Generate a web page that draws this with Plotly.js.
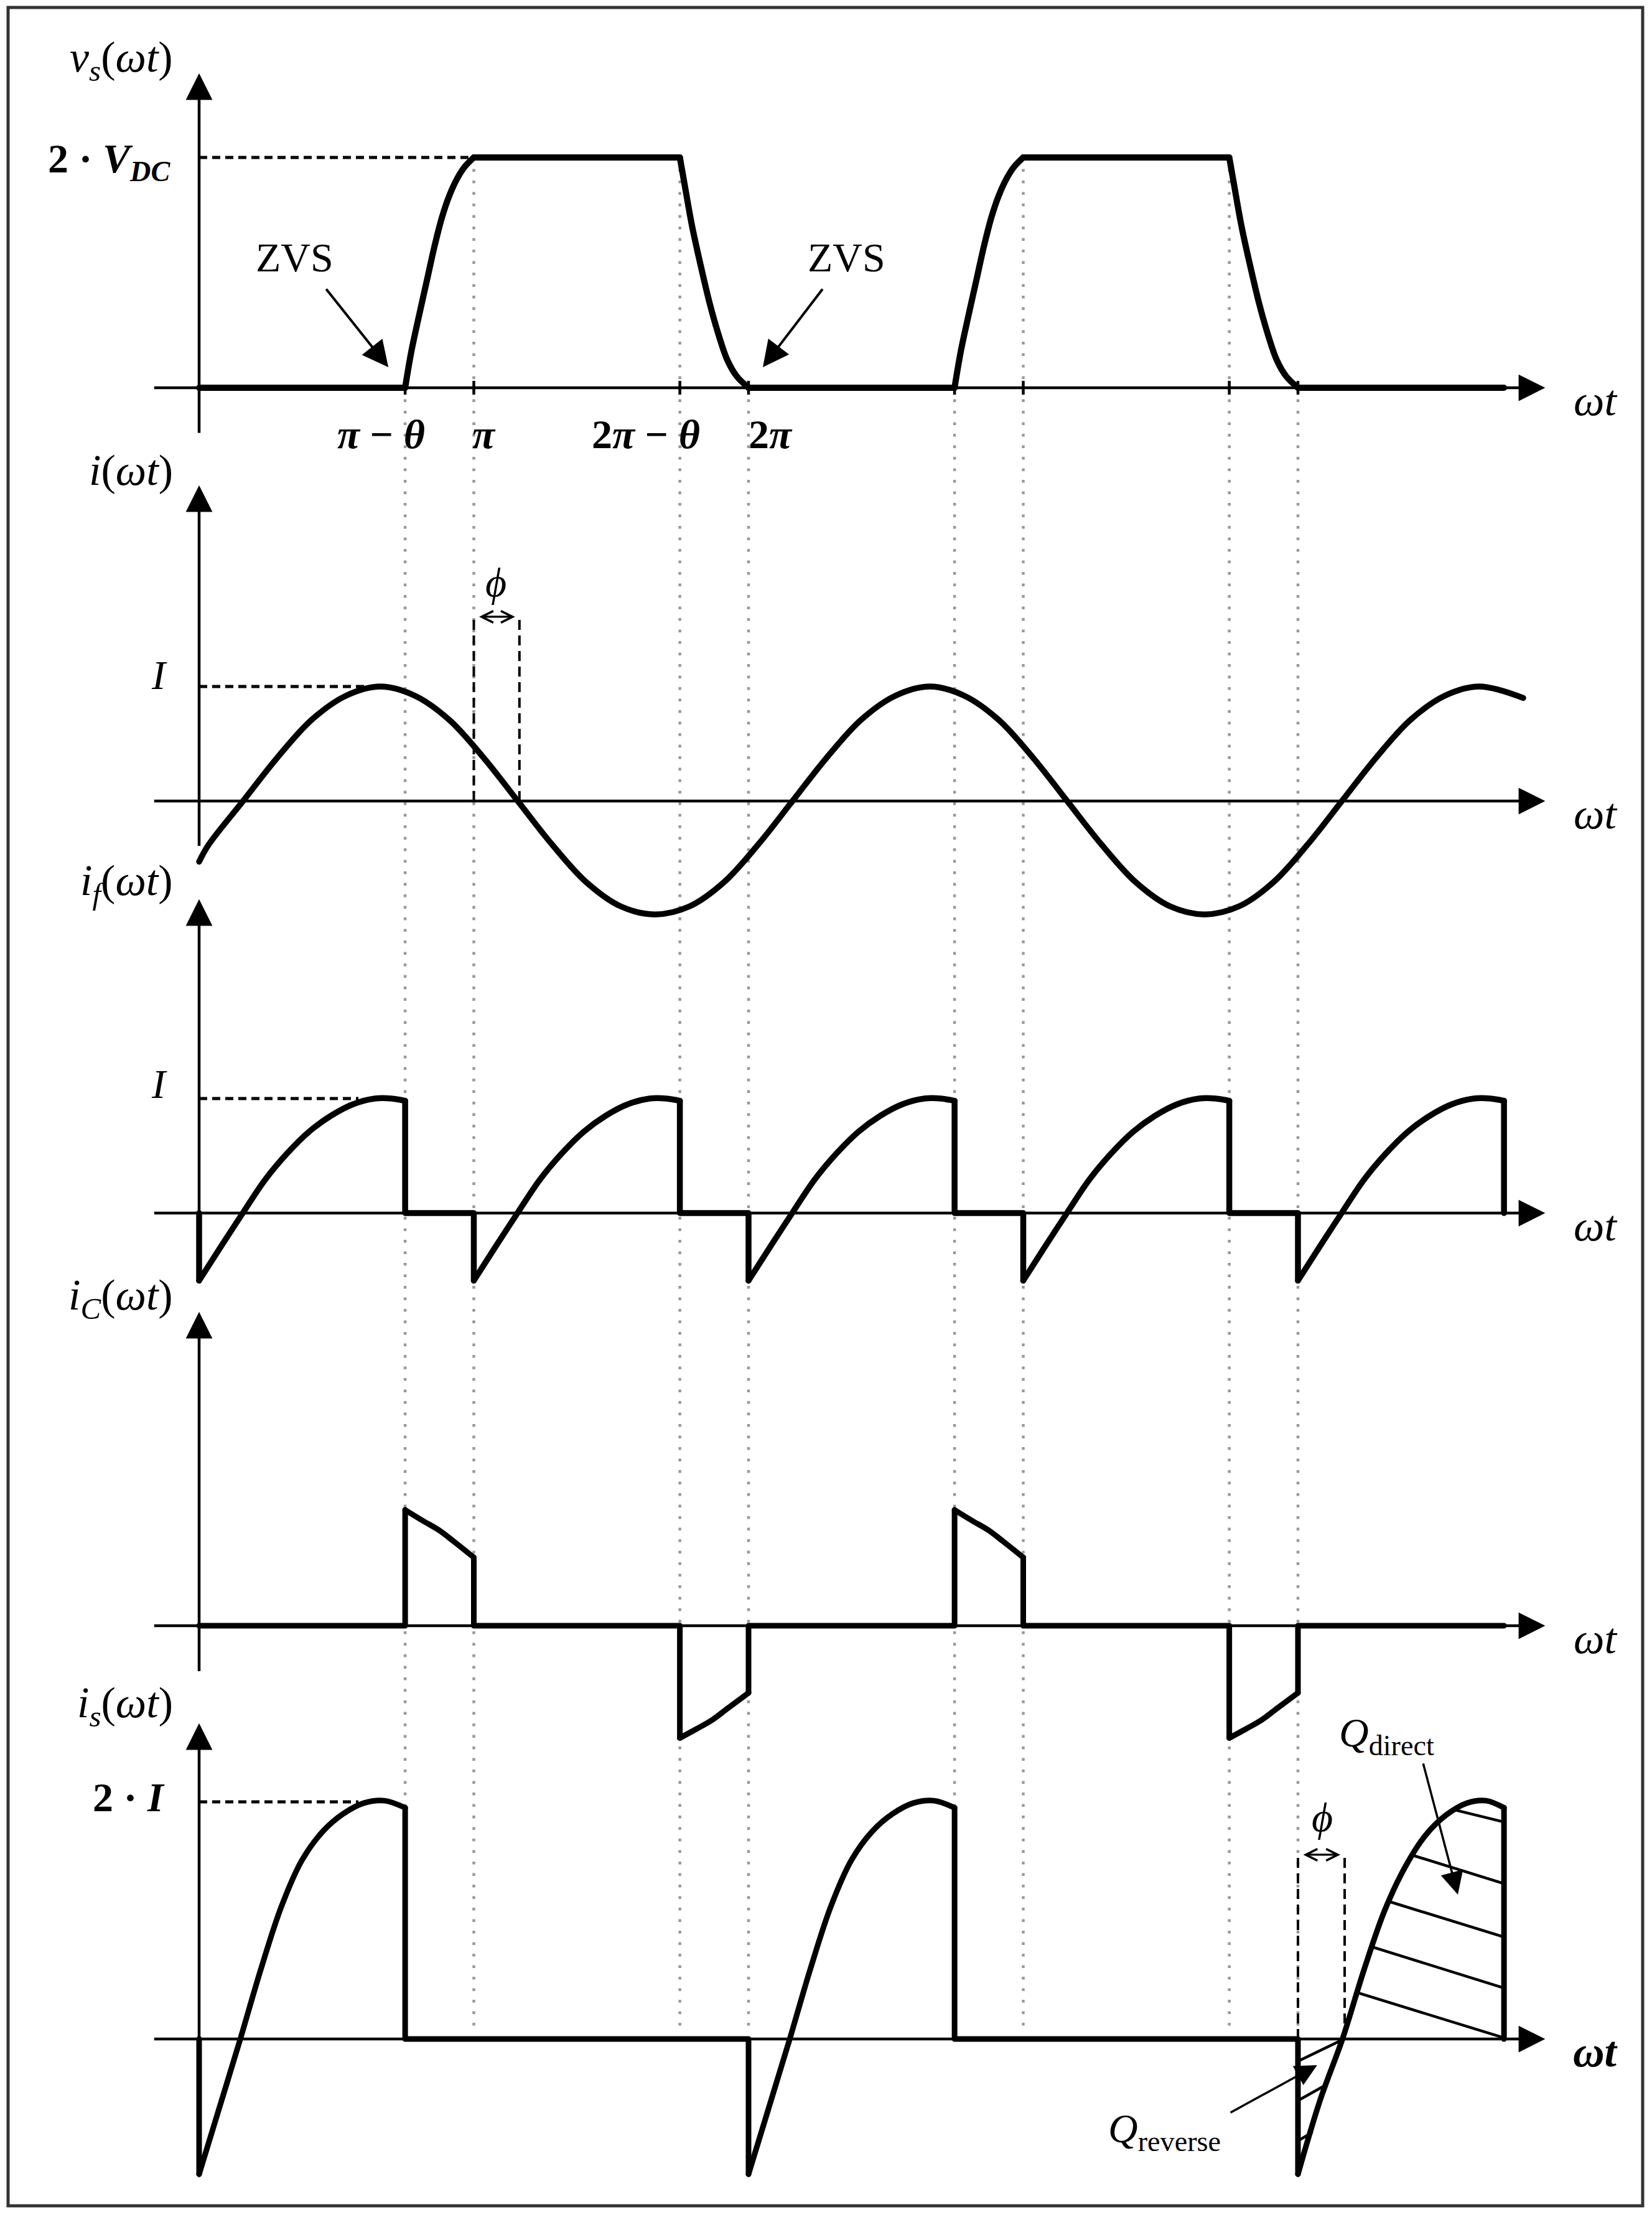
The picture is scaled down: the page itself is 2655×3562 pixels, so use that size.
<!DOCTYPE html>
<html>
<head>
<meta charset="utf-8">
<script src="https://cdn.plot.ly/plotly-3.0.1.min.js"></script>
<style>
html, body { margin: 0; padding: 0; background: #fff; }
#chart { width: 2655px; height: 3562px; }
.js-line { stroke-linejoin: round; stroke-linecap: round; }
</style>
</head>
<body>
<div id="chart"></div>
<script>
// x values are in units of pi (wt / pi), y values in V_DC or I

// switching instants: pi-theta, pi, 2pi-theta, 2pi, ...
let switchX = [0.75, 1, 1.75, 2, 2.75, 3, 3.75, 4];
let switchTop = [0, 2, 2, 0, 0, 2, 2, 0];
let tickLabels = ['<b><i>π</i> − <i>θ</i></b>', '<b><i>π</i></b>', '<b>2<i>π</i> − <i>θ</i></b>', '<b>2<i>π</i></b>'];

// v_s(wt)
let vsFlatX = [0, 0.75, null, 1, 1.75, null, 2, 2.75, null, 3, 3.75, null, 4, 4.75];
let vsFlatY = [0, 0, null, 2, 2, null, 0, 0, null, 2, 2, null, 0, 0];
let vsEdgeX = [0.75, 0.773, 0.8, 0.829, 0.856, 0.884, 0.911, 0.94, 0.967, 1, null,
    1.75, 1.767, 1.794, 1.828, 1.86, 1.891, 1.923, 1.957, 2, null,
    2.75, 2.773, 2.8, 2.829, 2.856, 2.884, 2.911, 2.94, 2.967, 3, null,
    3.75, 3.767, 3.794, 3.828, 3.86, 3.891, 3.923, 3.957, 4];
let vsEdgeY = [0, 0.32, 0.62, 0.93, 1.22, 1.48, 1.67, 1.82, 1.92, 2, null,
    2, 1.77, 1.41, 1.04, 0.72, 0.46, 0.24, 0.1, 0, null,
    0, 0.32, 0.62, 0.93, 1.22, 1.48, 1.67, 1.82, 1.92, 2, null,
    2, 1.77, 1.41, 1.04, 0.72, 0.46, 0.24, 0.1, 0];

// i(wt)
let iX = [0, 0.035, 0.16, 0.285, 0.41, 0.535, 0.66, 0.785, 0.91, 1.035, 1.16, 1.285, 1.41, 1.535,
    1.66, 1.785, 1.91, 2.035, 2.16, 2.285, 2.41, 2.535, 2.66, 2.785, 2.91, 3.035, 3.16, 3.285,
    3.41, 3.535, 3.66, 3.785, 3.91, 4.035, 4.16, 4.285, 4.41, 4.535, 4.66, 4.82];
let iY = [-0.53, -0.38, 0, 0.38, 0.71, 0.92, 1, 0.92, 0.71, 0.38, 0, -0.38, -0.71, -0.92,
    -0.99, -0.92, -0.71, -0.38, 0, 0.38, 0.71, 0.92, 1, 0.92, 0.71, 0.38, 0, -0.38,
    -0.71, -0.92, -0.99, -0.92, -0.71, -0.38, 0, 0.38, 0.71, 0.92, 1, 0.9];

// i_f(wt)
let ifCurveX = [0, 0.08, 0.159, 0.24, 0.32, 0.4, 0.48, 0.56, 0.64, 0.7, 0.75, null,
    1, 1.08, 1.159, 1.24, 1.32, 1.4, 1.48, 1.56, 1.64, 1.7, 1.75, null,
    2, 2.08, 2.159, 2.24, 2.32, 2.4, 2.48, 2.56, 2.64, 2.7, 2.75, null,
    3, 3.08, 3.159, 3.24, 3.32, 3.4, 3.48, 3.56, 3.64, 3.7, 3.75, null,
    4, 4.08, 4.159, 4.24, 4.32, 4.4, 4.48, 4.56, 4.64, 4.7, 4.75];
let ifCurveY = [-0.59, -0.29, 0, 0.29, 0.52, 0.71, 0.85, 0.95, 1, 1, 0.98, null,
    -0.59, -0.29, 0, 0.29, 0.52, 0.71, 0.85, 0.95, 1, 1, 0.98, null,
    -0.59, -0.29, 0, 0.29, 0.52, 0.71, 0.85, 0.95, 1, 1, 0.98, null,
    -0.59, -0.29, 0, 0.29, 0.52, 0.71, 0.85, 0.95, 1, 1, 0.98, null,
    -0.59, -0.29, 0, 0.29, 0.52, 0.71, 0.85, 0.95, 1, 1, 0.98];
let ifStepX = [0, 0, null, 0.75, 0.75, 1, 1, null, 1.75, 1.75, 2, 2, null, 2.75, 2.75, 3, 3, null,
    3.75, 3.75, 4, 4, null, 4.75, 4.75];
let ifStepY = [0, -0.59, null, 0.98, 0, 0, -0.59, null, 0.98, 0, 0, -0.59, null, 0.98, 0, 0, -0.59, null,
    0.98, 0, 0, -0.59, null, 0.98, 0];

// i_C(wt)
let icCurveX = [0.75, 0.812, 0.87, 0.926, 1, null, 1.75, 1.812, 1.87, 1.926, 2, null,
    2.75, 2.812, 2.87, 2.926, 3, null, 3.75, 3.812, 3.87, 3.926, 4];
let icCurveY = [1, 0.91, 0.83, 0.73, 0.59, null, -0.97, -0.89, -0.81, -0.71, -0.58, null,
    1, 0.91, 0.83, 0.73, 0.59, null, -0.97, -0.89, -0.81, -0.71, -0.58];
let icStepX = [0, 0.75, 0.75, null, 1, 1, 1.75, 1.75, null, 2, 2, 2.75, 2.75, null,
    3, 3, 3.75, 3.75, null, 4, 4, 4.75];
let icStepY = [0, 0, 1, null, 0.59, 0, 0, -0.97, null, -0.58, 0, 0, 1, null,
    0.59, 0, 0, -0.97, null, -0.58, 0, 0];

// i_s(wt)
let isCurveX = [0, 0.075, 0.15, 0.225, 0.3, 0.375, 0.45, 0.525, 0.6, 0.675, 0.75, null,
    2, 2.075, 2.15, 2.225, 2.3, 2.375, 2.45, 2.525, 2.6, 2.675, 2.75, null,
    4, 4.08, 4.162, 4.24, 4.315, 4.39, 4.465, 4.54, 4.615, 4.685, 4.75];
let isCurveY = [-1.14, -0.57, 0, 0.59, 1.12, 1.51, 1.75, 1.9, 1.99, 2.01, 1.95, null,
    -1.14, -0.57, 0, 0.59, 1.12, 1.51, 1.75, 1.9, 1.99, 2.01, 1.95, null,
    -1.14, -0.52, 0, 0.58, 1.08, 1.45, 1.72, 1.89, 1.99, 2.01, 1.95];
let isStepX = [0, 0, null, 0.75, 0.75, 2, 2, null, 2.75, 2.75, 4, 4, null, 4.75, 4.75];
let isStepY = [0, -1.14, null, 1.95, 0, 0, -1.14, null, 1.95, 0, 0, -1.14, null, 1.95, 0];

// charge hatching
let qDirectX = [4.575, 4.75, null, 4.417, 4.75, null, 4.331, 4.75, null, 4.265, 4.75, null, 4.217, 4.75];
let qDirectY = [1.93, 1.83, null, 1.55, 1.31, null, 1.16, 0.86, null, 0.78, 0.43, null, 0.39, 0.01];
let qReverseX = [4.007, 4.15, null, 4.007, 4.1, null, 4.007, 4.05];
let qReverseY = [-0.18, -0.02, null, -0.51, -0.39, null, -0.85, -0.79];

// guide levels and phase markers
let peakLevels = [2, 1, 1, null, 2];
let phiStart = [1, 4];
let phiEnd = [1.166, 4.17];

// ---------- page geometry ----------
let W = 2655, H = 3562;
let originPx = 320, piPx = 441.5;
let font = 'Liberation Serif, DejaVu Serif, serif';

let panels = [
    {ref: 'y', base: 623, scale: 185, top: 2.778, label: '<i>v</i><sub><i>s</i></sub>(<i>ωt</i>)', labelY: 2.843},
    {ref: 'y2', base: 1287, scale: 184, top: 2.804, label: '<i>i</i>(<i>ωt</i>)', labelY: 2.886},
    {ref: 'y3', base: 1949, scale: 184, top: 2.788, label: '<i>i</i><sub><i>f</i></sub>(<i>ωt</i>)', labelY: 2.875},
    {ref: 'y4', base: 2612, scale: 186, top: 2.758, label: '<i>i</i><sub><i>C</i></sub>(<i>ωt</i>)', labelY: 2.828},
    {ref: 'y5', base: 3276, scale: 190.5, top: 2.709, label: '<i>i</i><sub><i>s</i></sub>(<i>ωt</i>)', labelY: 2.808}
];

function toPanel(p, px) {
    return (p.base - px) / p.scale;
}

function wave(x, y, yref, spline, width) {
    return {
        x: x, y: y, xaxis: 'x', yaxis: yref,
        mode: 'lines', connectgaps: false, hoverinfo: 'skip',
        line: {color: '#000', width: width || 9.5, shape: spline ? 'spline' : 'linear', smoothing: 1}
    };
}

function arrow(x, y, ax, ay, yref, extra) {
    return Object.assign({
        x: x, y: y, ax: ax, ay: ay, xref: 'x', yref: yref, axref: 'x', ayref: yref,
        text: '', showarrow: true, arrowhead: 2, arrowsize: 1.9, arrowwidth: 4.5,
        arrowcolor: '#000', standoff: 0
    }, extra || {});
}

function label(text, x, y, yref, extra) {
    return Object.assign({
        text: text, x: x, y: y, xref: 'x', yref: yref, showarrow: false,
        xanchor: 'center', yanchor: 'middle',
        font: {family: font, size: 66, color: '#000'}
    }, extra || {});
}

let traces = [
    wave(vsFlatX, vsFlatY, 'y', false, 10),
    wave(vsEdgeX, vsEdgeY, 'y', true, 10),
    wave(iX, iY, 'y2', true, 9.5),
    wave(ifStepX, ifStepY, 'y3', false, 9.5),
    wave(ifCurveX, ifCurveY, 'y3', true, 9.5),
    wave(icStepX, icStepY, 'y4', false, 9),
    wave(icCurveX, icCurveY, 'y4', true, 9),
    wave(isStepX, isStepY, 'y5', false, 9),
    wave(isCurveX, isCurveY, 'y5', true, 9),
    wave(qDirectX, qDirectY, 'y5', false, 4.5),
    wave(qReverseX, qReverseY, 'y5', false, 4.5)
];

let shapes = [];
let annotations = [];

// grey switching lines running through all panels
let dottedBottom = toPanel(panels[0], 3258);
switchX.forEach(function(sx, k) {
    shapes.push({type: 'line', layer: 'below', xref: 'x', yref: 'y', x0: sx, x1: sx,
        y0: switchTop[k], y1: dottedBottom, line: {color: '#999999', width: 4.5, dash: '4.5px,14px'}});
    shapes.push({type: 'line', xref: 'x', yref: 'y', x0: sx, x1: sx, y0: -0.06, y1: 0.06,
        line: {color: '#000', width: 4.5}});
});

// dashed peak levels
let levelEnds = [0.98, 0.62, 0.58, null, 0.58];
panels.forEach(function(p, k) {
    if (peakLevels[k] === null) return;
    shapes.push({type: 'line', layer: 'below', xref: 'x', yref: p.ref, x0: 0, x1: levelEnds[k],
        y0: peakLevels[k], y1: peakLevels[k], line: {color: '#000', width: 5, dash: '13px,8px'}});
});

// phase shift markers
let phiPanels = [panels[1], panels[4]];
let phiHeights = [1.609, 1.554];
phiPanels.forEach(function(p, k) {
    [phiStart[k], phiEnd[k]].forEach(function(xx) {
        shapes.push({type: 'line', layer: 'below', xref: 'x', yref: p.ref, x0: xx, x1: xx,
            y0: 0, y1: phiHeights[k], line: {color: '#000', width: 4, dash: '16px,9px'}});
    });
    let back = 7 / piPx;
    annotations.push(arrow(phiEnd[k] - back, phiHeights[k], phiStart[k] + back, phiHeights[k], p.ref, {
        arrowhead: 5, startarrowhead: 5, arrowside: 'end+start', arrowwidth: 3.2,
        arrowsize: 1.15, startarrowsize: 1.15, startstandoff: 0
    }));
});
annotations.push(label('<i>ϕ</i>', 1.08, 1.913, 'y2'));
annotations.push(label('<i>ϕ</i>', 4.088, 1.869, 'y5'));

// axes with arrow heads and labels
panels.forEach(function(p, k) {
    annotations.push(arrow(4.9, 0, -0.167, 0, p.ref));
    annotations.push(arrow(0, p.top - 8.8 / p.scale, 0, -0.4, p.ref));
    annotations.push(label(p.label, -0.0906, p.labelY, p.ref, {xanchor: 'right', font: {family: font, size: 70, color: '#000'}}));
    annotations.push(label(k === 4 ? '<b><i>ωt</i></b>' : '<i>ωt</i>', 5.083, 0, p.ref,
        {yshift: -20, font: {family: font, size: 70, color: '#000'}}));
});

// tick labels under v_s
let tickShift = [-39, 16, -55, 35];
tickLabels.forEach(function(t, k) {
    annotations.push(label(t, switchX[k], -0.405, 'y', {xshift: tickShift[k]}));
});

// level labels
annotations.push(label('<b>2 · <i>V</i><sub><i>DC</i></sub></b>', -0.1, 2.0, 'y', {xanchor: 'right', yshift: -6}));
annotations.push(label('<i>I</i>', -0.111, 1.098, 'y2', {xanchor: 'right'}));
annotations.push(label('<i>I</i>', -0.111, 1.128, 'y3', {xanchor: 'right'}));
annotations.push(label('<b>2 · <i>I</i></b>', -0.12, 2.04, 'y5', {xanchor: 'right'}));

// ZVS callouts
annotations.push(label('ZVS', 0.347, 1.13, 'y'));
annotations.push(label('ZVS', 2.356, 1.13, 'y'));
annotations.push(arrow(0.689, 0.178, 0.46, 0.865, 'y', {arrowwidth: 4, arrowsize: 2.1}));
annotations.push(arrow(2.052, 0.178, 2.272, 0.865, 'y', {arrowwidth: 4, arrowsize: 2.1}));

// charge callouts
annotations.push(label('<i>Q</i><sub>direct</sub>', 4.322, 2.56, 'y5'));
annotations.push(label('<i>Q</i><sub>reverse</sub>', 3.724, -0.78, 'y5', {xanchor: 'right'}));
annotations.push(arrow(4.582, 1.218, 4.455, 2.331, 'y5', {arrowwidth: 3.5, arrowsize: 2.1}));
annotations.push(arrow(4.07, -0.22, 3.751, -0.625, 'y5', {arrowwidth: 3.5, arrowsize: 2}));

// frame
shapes.push({type: 'rect', xref: 'paper', yref: 'paper', x0: 13 / W, x1: 2640 / W,
    y0: 1 - 3544 / H, y1: 1 - 12 / H, line: {color: '#333', width: 5}});

let layout = {
    width: W, height: H,
    margin: {l: 0, r: 0, t: 0, b: 0, pad: 0},
    paper_bgcolor: '#fff', plot_bgcolor: '#fff',
    showlegend: false, hovermode: false,
    font: {family: font, size: 66, color: '#000'},
    xaxis: {range: [-originPx / piPx, (W - originPx) / piPx], visible: false, fixedrange: true},
    shapes: shapes,
    annotations: annotations
};

panels.forEach(function(p, k) {
    let axis = {range: [(p.base - H) / p.scale, p.base / p.scale], visible: false, fixedrange: true, domain: [0, 1]};
    if (k > 0) axis.overlaying = 'y';
    layout[k === 0 ? 'yaxis' : 'yaxis' + (k + 1)] = axis;
});

Plotly.newPlot('chart', traces, layout, {staticPlot: true, displayModeBar: false});
</script>
</body>
</html>
